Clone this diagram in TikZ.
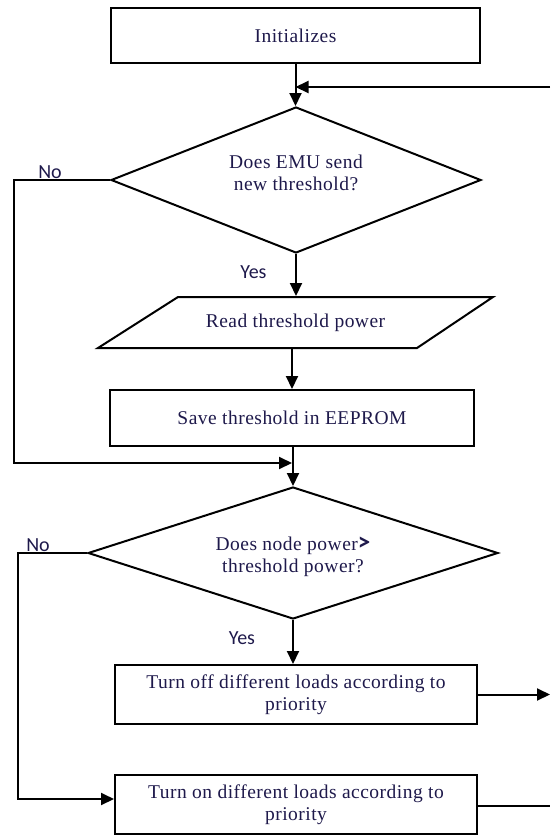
\documentclass[tikz,border=0pt]{standalone}
\usepackage{fontspec}
\setmainfont{Liberation Serif}[LetterSpace=2.5]
\newfontfamily\lblfont{Carlito}
\usetikzlibrary{shapes.geometric,arrows.meta}
\definecolor{txt}{RGB}{30,25,75}
\begin{document}
\begin{tikzpicture}[x=1pt,y=-1pt,
  line width=2pt,
  every node/.style={text=txt},
  box/.style={draw=black,rectangle,inner sep=0pt,align=center,font=\fontsize{19.5}{21.5}\selectfont},
  dec/.style={draw=black,diamond,aspect=2.5,inner sep=0pt},
  arr/.style={-{Triangle[length=13pt,width=12pt]}},
  lbl/.style={font=\lblfont\fontsize{20}{21}\selectfont,inner sep=0pt},
  tx/.style={font=\fontsize{19.5}{21.5}\selectfont,align=center,inner sep=0pt}
]
\useasboundingbox (0,0) rectangle (550,836);
% nodes
\node[box,minimum width=369pt,minimum height=55pt] (init) at (295.5,35.5) {Initializes};
\node[dec,minimum width=370pt,minimum height=146pt] (d1) at (296,180) {};
\node[tx] (d1t) at (296,173) {Does EMU send\\new threshold?};
\draw (178,297) -- (493,297) -- (417,348) -- (98,348) -- cycle;
\node[tx,minimum height=51pt] (para) at (295.5,322.5) {Read threshold power};
\node[box,minimum width=364pt,minimum height=56pt] (save) at (292,418) {Save threshold in EEPROM};
\node[dec,minimum width=410pt,minimum height=132pt] (d2) at (293,553) {};
\node[tx] (d2t) at (293,557) {Does node power{\lblfont\bfseries\fontsize{25}{21}\selectfont>}\\threshold power?};
\node[box,minimum width=362pt,minimum height=59pt] (off) at (296,694.5) {Turn off different loads according to\\priority};
\node[box,minimum width=362pt,minimum height=59pt] (on) at (296,804.5) {Turn on different loads according to\\priority};
% labels
\node[lbl] (no1) at (50,172) {No};
\node[lbl] (no2) at (38,545) {No};
\node[lbl] (yes1) at (253.5,272) {Yes};
\node[lbl] (yes2) at (242,638) {Yes};
% coordinates
\coordinate (lr) at (550,87);
\coordinate (n1a) at (14,180);
\coordinate (n1b) at (14,463);
\coordinate (n2a) at (18,553);
\coordinate (n2b) at (18,799);
\coordinate (oe) at (550,694.5);
\coordinate (ne) at (550,806);
% connectors
\draw[arr] (init.south) -- (init.south |- d1.north);
\draw[arr] (lr) -- (lr -| init.south);
\draw[arr] (d1.south) -- (d1.south |- para.north);
\draw[arr] (save.north |- para.south) -- (save.north);
\draw[arr] (d2.north |- save.south) -- (d2.north);
\draw[arr] (d1.west) -- (n1a) -- (n1b) -- (n1b -| save.south);
\draw[arr] (d2.south) -- (d2.south |- off.north);
\draw[arr] (d2.west) -- (n2a) -- (n2b) -- (n2b -| on.west);
\draw[arr] (off.east) -- (off.east -| oe);
\draw (on.east |- ne) -- (ne);
\end{tikzpicture}
\end{document}
